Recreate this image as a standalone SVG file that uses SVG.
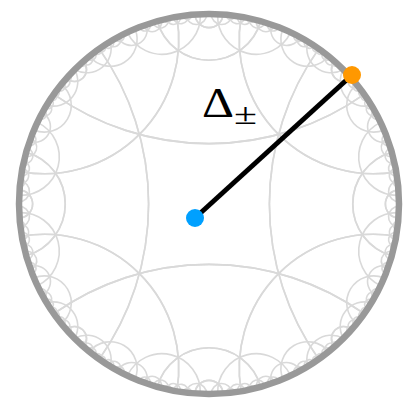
<svg xmlns="http://www.w3.org/2000/svg" width="405" height="399" viewBox="0 0 405 399">
<style>
.tiling{fill:none;stroke:#d9d9d9;stroke-width:1.6}
.rim{fill:none;stroke:#999999;stroke-width:6.5}
.edge{stroke:#000000;stroke-width:5;fill:none}
.lbl{font-family:"Liberation Serif","DejaVu Serif",serif;fill:#000000}
</style>
<defs>
<g id="oct">
<path d="M109.7 155.13A268.7 268.7 0 0 1 109.7 -155.13"/>
<path d="M187.26 -32.15A134.35 134.35 0 0 1 32.15 -187.26"/>
<path d="M182.83 51.7A53.74 53.74 0 0 1 182.83 -51.7"/>
<path d="M189.8 -8.69A38.37 38.37 0 0 1 171.56 -81.65"/>
<path d="M175 -74A26.86 26.86 0 0 1 147.64 -119.6"/>
<path d="M162.32 -98.77A24.46 24.46 0 0 1 134.37 -134.33"/>
<path d="M179.38 -62.64A15.71 15.71 0 0 1 166.66 -91.24"/>
<path d="M189.48 14.11A14.15 14.15 0 0 1 189.48 -14.11"/>
<path d="M142.68 -125.48A12.19 12.19 0 0 1 125.48 -142.68"/>
<path d="M189.99 -2.32A10.36 10.36 0 0 1 188.61 -22.96"/>
<path d="M183.9 -47.76A9.26 9.26 0 0 1 178.38 -65.42"/>
<path d="M185.6 -40.67A7.9 7.9 0 0 1 181.58 -55.93"/>
<path d="M188.88 -20.59A7.68 7.68 0 0 1 186.6 -35.77"/>
<path d="M187.86 -28.41A7.25 7.25 0 0 1 185.15 -42.64"/>
<path d="M167.87 -88.99A7.1 7.1 0 0 1 160.76 -101.28"/>
<path d="M149.29 -117.52A6.25 6.25 0 0 1 141.24 -127.09"/>
<path d="M180.67 -58.81A5.82 5.82 0 0 1 176.73 -69.76"/>
<path d="M163.96 -96A5.47 5.47 0 0 1 158.17 -105.28"/>
<path d="M152.08 -113.9A5.09 5.09 0 0 1 145.76 -121.88"/>
<path d="M169.76 -85.34A4.91 4.91 0 0 1 165.12 -93.99"/>
<path d="M189.22 -17.22A4.36 4.36 0 0 1 188.23 -25.88"/>
<path d="M158.88 -104.21A4.41 4.41 0 0 1 153.87 -111.47"/>
<path d="M156.4 -107.89A4.35 4.35 0 0 1 151.3 -114.93"/>
<path d="M144.43 -123.45A4.13 4.13 0 0 1 138.93 -129.6"/>
<path d="M186.15 -38.04A3.75 3.75 0 0 1 184.51 -45.35"/>
</g>
</defs>
<rect width="405" height="399" fill="#ffffff"/>
<g id="tiling" class="tiling" transform="translate(209 204)">
<use href="#oct"/>
<use href="#oct" transform="rotate(90)"/>
<use href="#oct" transform="rotate(180)"/>
<use href="#oct" transform="rotate(270)"/>
<use href="#oct" transform="scale(1 -1)"/>
<use href="#oct" transform="rotate(90) scale(1 -1)"/>
<use href="#oct" transform="rotate(180) scale(1 -1)"/>
<use href="#oct" transform="rotate(270) scale(1 -1)"/>
</g>
<g id="boundary">
<circle class="rim" cx="209" cy="204" r="190"/>
</g>
<g id="connectors">
<line class="edge" x1="195" y1="218" x2="352" y2="75"/>
</g>
<g id="node-center">
<circle cx="195" cy="218" r="9" fill="#00a0ff"/>
</g>
<g id="node-boundary">
<circle cx="352" cy="75" r="9" fill="#ff9800"/>
</g>
<g id="label">
<text class="lbl" x="202" y="117" font-size="42" textLength="32" lengthAdjust="spacingAndGlyphs">Δ</text>
<text class="lbl" x="234" y="124" font-size="29" textLength="23" lengthAdjust="spacingAndGlyphs">±</text>
</g>
</svg>
